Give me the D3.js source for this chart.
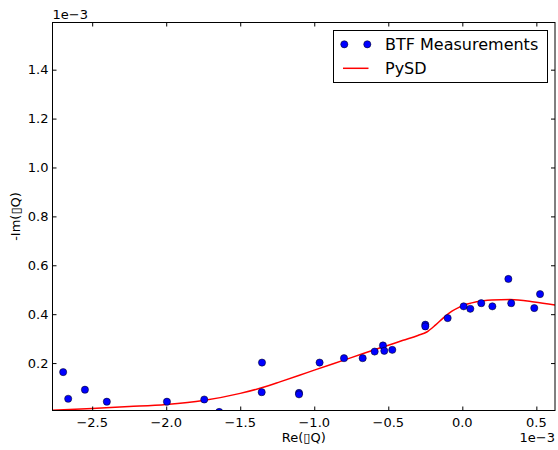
<!DOCTYPE html>
<html><head><meta charset="utf-8">
<script src="https://cdn.jsdelivr.net/npm/d3@7"></script>
<style>body{margin:0;background:#fff}svg{display:block}text{font-family:"DejaVu Sans",sans-serif;fill:#000}</style>
</head><body><svg id="c" width="558" height="450"></svg>
<script>
// Measurements (x1e-3, y1e-3)
const measRe = [-2.696,-2.662,-2.549,-2.401,-1.995,-1.743,-1.642,-1.355,-1.353,-1.103,-1.103,-0.964,-0.799,-0.673,-0.592,-0.536,-0.527,-0.473,-0.250,-0.250,-0.099,0.009,0.054,0.128,0.203,0.330,0.311,0.486,0.525];
const measIm = [0.163,0.054,0.091,0.042,0.042,0.051,0.000,0.081,0.202,0.078,0.072,0.202,0.220,0.220,0.247,0.272,0.250,0.254,0.357,0.350,0.384,0.432,0.422,0.445,0.432,0.445,0.544,0.425,0.482];
// PySD model curve
const pysdRe = [-2.768,-2.5,-2.25,-2.0,-1.75,-1.5,-1.35,-1.232,-1.1,-1.0,-0.8,-0.669,-0.53,-0.4,-0.3,-0.24,-0.18,-0.128,-0.07,-0.016,0.097,0.2,0.322,0.486,0.626];
const pysdIm = [0.007,0.014,0.022,0.031,0.047,0.076,0.100,0.123,0.150,0.171,0.212,0.239,0.267,0.293,0.313,0.327,0.356,0.385,0.412,0.430,0.451,0.458,0.460,0.450,0.437];
const xTicks = [-2.5,-2.0,-1.5,-1.0,-0.5,0.0,0.5];
const yTicks = [0.2,0.4,0.6,0.8,1.0,1.2,1.4];
const seriesNames = ["BTF Measurements","PySD"];

const L=52.5,R=555,T=22.5,B=410.5;
const svg=d3.select("#c");
const x=d3.scaleLinear().domain([-2.768,0.626]).range([L,R]);
const y=d3.scaleLinear().domain([0.006,1.593]).range([B,T]);
const fmt=d=>d3.format(".1f")(d).replace("-","\u2212");

svg.append("defs").append("clipPath").attr("id","clip").append("rect")
  .attr("x",L).attr("y",T).attr("width",R-L).attr("height",B-T);

const g=svg.append("g").attr("clip-path","url(#clip)");
g.append("path").datum(pysdRe.map((d,i)=>[d,pysdIm[i]]))
  .attr("fill","none").attr("stroke","#ff0000").attr("stroke-width",1.5)
  .attr("d",d3.line().x(d=>x(d[0])).y(d=>y(d[1])).curve(d3.curveMonotoneX));
g.selectAll("circle").data(measRe.map((d,i)=>[d,measIm[i]])).join("circle")
  .attr("cx",d=>x(d[0])).attr("cy",d=>y(d[1])).attr("r",3.6)
  .attr("fill","#0000ff").attr("stroke","#000").attr("stroke-width",0.5);

// axes with inward ticks on all sides
const ax=(gen,tr)=>{const a=svg.append("g").attr("transform",tr).call(gen);a.select(".domain").remove();a.selectAll("line").attr("stroke","#000");return a;};
ax(d3.axisTop(x).tickValues(xTicks).tickSize(4).tickFormat(""),`translate(0,${B})`);
ax(d3.axisBottom(x).tickValues(xTicks).tickSize(4).tickFormat(""),`translate(0,${T})`);
ax(d3.axisRight(y).tickValues(yTicks).tickSize(4).tickFormat(""),`translate(${L},0)`);
ax(d3.axisLeft(y).tickValues(yTicks).tickSize(4).tickFormat(""),`translate(${R},0)`);

svg.append("g").selectAll("text").data(xTicks).join("text")
  .attr("x",d=>x(d)).attr("y",B+16.5).attr("text-anchor","middle").attr("font-size",13).text(fmt);
svg.append("g").selectAll("text").data(yTicks).join("text")
  .attr("x",L-4).attr("y",d=>y(d)+4.7).attr("text-anchor","end").attr("font-size",13).text(fmt);

svg.append("rect").attr("x",L).attr("y",T).attr("width",R-L).attr("height",B-T)
  .attr("fill","none").attr("stroke","#000").attr("stroke-width",1);

svg.append("text").attr("x",L).attr("y",19).attr("font-size",13).text("1e\u22123");
svg.append("text").attr("x",R).attr("y",442).attr("text-anchor","end").attr("font-size",13).text("1e\u22123");
svg.append("text").attr("x",(L+R)/2).attr("y",442).attr("text-anchor","middle").attr("font-size",13).text("Re(\u25AFQ)");
svg.append("text").attr("transform",`translate(20,${(T+B)/2}) rotate(-90)`).attr("text-anchor","middle").attr("font-size",13).text("-Im(\u25AFQ)");

// legend
const lg=svg.append("g");
lg.append("rect").attr("x",333.5).attr("y",30.5).attr("width",214).attr("height",52).attr("fill","#fff").attr("stroke","#000");
lg.selectAll("circle").data([344.3,367.3]).join("circle").attr("cx",d=>d).attr("cy",44.3).attr("r",3.6)
  .attr("fill","#0000ff").attr("stroke","#000").attr("stroke-width",0.5);
lg.append("line").attr("x1",343).attr("x2",368.5).attr("y1",68.3).attr("y2",68.3).attr("stroke","#ff0000").attr("stroke-width",1.5);
lg.selectAll("text").data(seriesNames).join("text").attr("x",385).attr("y",(d,i)=>50+i*24).attr("font-size",16).text(d=>d);
</script></body></html>
